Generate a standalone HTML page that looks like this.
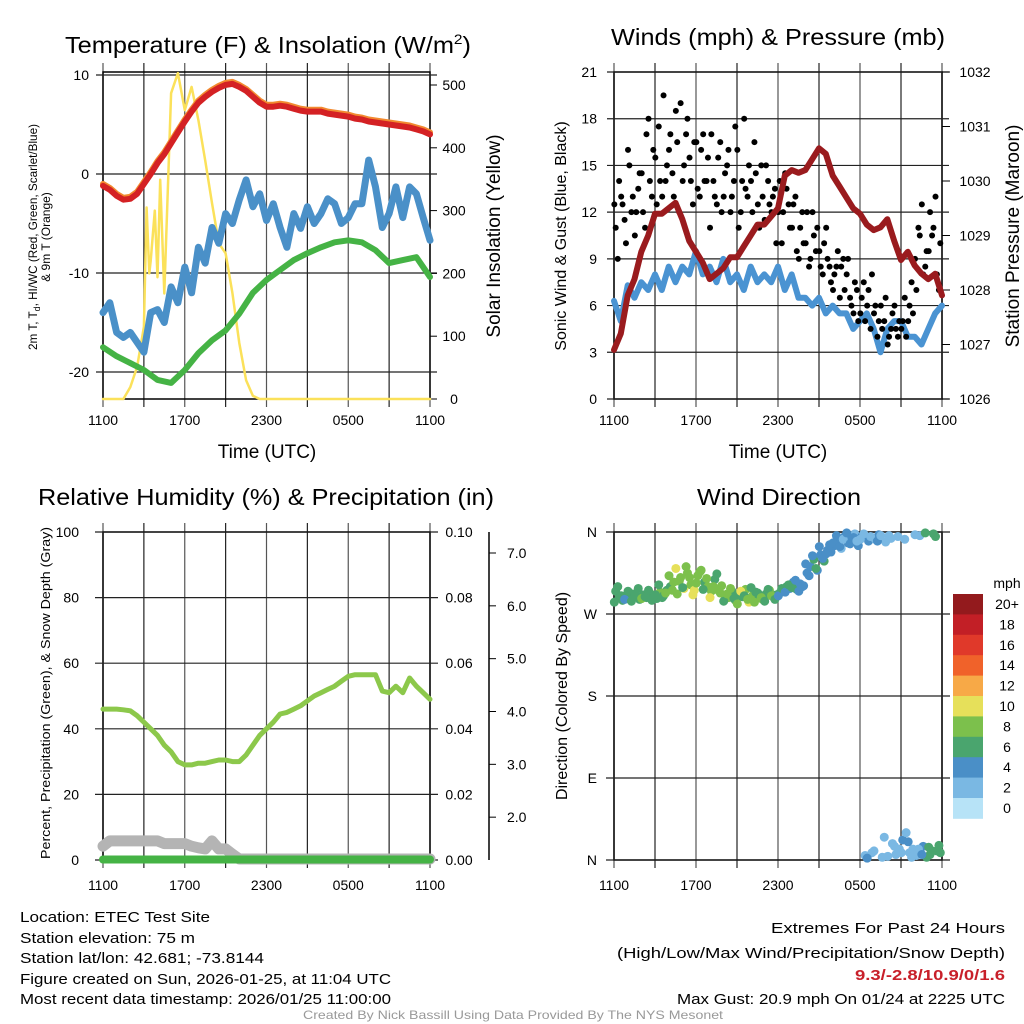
<!DOCTYPE html>
<html><head><meta charset="utf-8"><style>
html,body{margin:0;padding:0;background:#fff;}
svg{display:block;font-family:"Liberation Sans",sans-serif;}
</style></head><body>
<svg id="fig" width="1024" height="1024" viewBox="0 0 1024 1024" xmlns="http://www.w3.org/2000/svg">
<g id="g1"></g>
<g id="g2"></g>
<g id="g3"></g>
<g id="g4"></g>
<g font-size="23" text-anchor="middle" fill="#000">
<text x="268" y="53" textLength="406" lengthAdjust="spacingAndGlyphs">Temperature (F) &amp; Insolation (W/m<tspan dy="-9" font-size="14">2</tspan><tspan dy="9">)</tspan></text>
<text x="778" y="45" textLength="334" lengthAdjust="spacingAndGlyphs">Winds (mph) &amp; Pressure (mb)</text>
<text x="266" y="505" textLength="456" lengthAdjust="spacingAndGlyphs">Relative Humidity (%) &amp; Precipitation (in)</text>
<text x="779" y="505" textLength="164" lengthAdjust="spacingAndGlyphs">Wind Direction</text>
</g>
<g fill="#000">
<text x="267" y="458" font-size="19" text-anchor="middle">Time (UTC)</text>
<text x="778" y="458" font-size="19" text-anchor="middle">Time (UTC)</text>
<text transform="translate(37,237) rotate(-90)" font-size="12" text-anchor="middle" textLength="226" lengthAdjust="spacingAndGlyphs">2m T, T<tspan dy="3" font-size="9">d</tspan><tspan dy="-3">, HI/WC (Red, Green, Scarlet/Blue)</tspan></text>
<text transform="translate(50,237) rotate(-90)" font-size="12" text-anchor="middle">&amp; 9m T (Orange)</text>
<text transform="translate(500,236) rotate(-90)" font-size="19" text-anchor="middle">Solar Insolation (Yellow)</text>
<text transform="translate(566,236) rotate(-90)" font-size="16" text-anchor="middle">Sonic Wind &amp; Gust (Blue, Black)</text>
<text transform="translate(1019,236) rotate(-90)" font-size="19" text-anchor="middle">Station Pressure (Maroon)</text>
<text transform="translate(50,693) rotate(-90)" font-size="13" text-anchor="middle" textLength="332" lengthAdjust="spacingAndGlyphs">Percent, Precipitation (Green), &amp; Snow Depth (Gray)</text>
<text transform="translate(567,696) rotate(-90)" font-size="16" text-anchor="middle">Direction (Colored By Speed)</text>
</g>
<g font-size="15" fill="#000">
<text x="20" y="922" textLength="190" lengthAdjust="spacingAndGlyphs">Location: ETEC Test Site</text>
<text x="20" y="943" textLength="175" lengthAdjust="spacingAndGlyphs">Station elevation: 75 m</text>
<text x="20" y="963" textLength="244" lengthAdjust="spacingAndGlyphs">Station lat/lon: 42.681; -73.8144</text>
<text x="20" y="984" textLength="371" lengthAdjust="spacingAndGlyphs">Figure created on Sun, 2026-01-25, at 11:04 UTC</text>
<text x="20" y="1004" textLength="371" lengthAdjust="spacingAndGlyphs">Most recent data timestamp: 2026/01/25 11:00:00</text>
</g>
<g font-size="15" fill="#000" text-anchor="end">
<text x="1005" y="933" textLength="234" lengthAdjust="spacingAndGlyphs">Extremes For Past 24 Hours</text>
<text x="1005" y="958" textLength="388" lengthAdjust="spacingAndGlyphs">(High/Low/Max Wind/Precipitation/Snow Depth)</text>
<text x="1005" y="980" fill="#c8202a" font-weight="bold" textLength="150" lengthAdjust="spacingAndGlyphs">9.3/-2.8/10.9/0/1.6</text>
<text x="1005" y="1004" textLength="328" lengthAdjust="spacingAndGlyphs">Max Gust: 20.9 mph On 01/24 at 2225 UTC</text>
</g>
<text x="513" y="1019" font-size="12" fill="#999" text-anchor="middle" textLength="420" lengthAdjust="spacingAndGlyphs">Created By Nick Bassill Using Data Provided By The NYS Mesonet</text>
</svg>
<script>
// ---- data ----
const timeLabels = ["1100","1700","2300","0500","1100"];
const tempTicks = [-20,-10,0,10];
const solarTicks = [0,100,200,300,400,500];
const tempRed = [-1.2,-1.6,-2.2,-2.6,-2.5,-2.0,-1.0,0,1.1,2,3.1,4.2,5.3,6.3,7.2,7.8,8.3,8.7,9.0,9.1,8.8,8.4,7.8,7.2,6.8,6.8,6.9,6.8,6.6,6.4,6.3,6.3,6.3,6.1,6.0,5.9,5.8,5.6,5.5,5.3,5.2,5.1,5.0,4.9,4.8,4.7,4.5,4.3,4.0];
const temp9m = [-1.0,-1.4,-2.0,-2.4,-2.3,-1.8,-0.8,0.2,1.3,2.2,3.3,4.4,5.5,6.5,7.4,8.0,8.5,8.9,9.2,9.3,9.0,8.6,8.0,7.4,7.0,7.0,7.1,7.0,6.8,6.6,6.5,6.5,6.5,6.3,6.2,6.1,6.0,5.8,5.7,5.5,5.4,5.3,5.2,5.1,5.0,4.9,4.7,4.5,4.2];
const windChill = [-14,-13,-16,-16.5,-16,-17,-18,-14,-13.7,-15,-11.4,-13,-9.4,-12,-7.4,-9,-5.4,-7,-4.0,-5,-2.6,-0.6,-3.3,-2,-4.7,-3,-5.4,-7.4,-4,-5.5,-3.3,-5,-4,-2.5,-3,-5,-4.4,-3,-3,1.4,-1.3,-5.4,-4,-1.3,-4.4,-1.3,-2,-4.4,-6.7];
const dewpoint = [-17.5,-18.4,-19.1,-19.8,-20.8,-21.1,-19.8,-18.1,-16.8,-15.8,-14.1,-12,-10.7,-9.7,-8.7,-8,-7.4,-6.9,-6.7,-6.9,-7.7,-9,-8.7,-8.4,-10.4];
const solar = [0,0,0,0,19,51,115,220,194,168,487,519,460,497,444,380,312,248,232,169,89,30,5,0,0,0,0,0,0,0,0,0,0,0,0,0,0,0,0,0,0,0,0,0,0,0,0,0,0];
const solarSpikeH = [3.2,3.4,3.8,4.2];
const solarSpikeV = [305,200,300,349];
const windTicks = [0,3,6,9,12,15,18,21];
const presTicks = [1026,1027,1028,1029,1030,1031,1032];
const pressure = [1026.9,1027.2,1027.9,1028.2,1028.7,1029.0,1029.4,1029.4,1029.5,1029.6,1029.3,1028.9,1028.7,1028.5,1028.2,1028.3,1028.4,1028.6,1028.6,1028.8,1029.0,1029.2,1029.2,1029.35,1029.5,1030.1,1030.2,1030.15,1030.2,1030.4,1030.6,1030.5,1030.1,1029.9,1029.7,1029.5,1029.4,1029.2,1029.1,1029.15,1029.3,1028.9,1028.55,1028.7,1028.45,1028.3,1028.2,1028.3,1027.9];
const sonicWind = [6.3,5,7.3,6.5,7.5,7,8,7,8.5,7.5,8.5,8,9.5,8,8.5,7.5,9,7.5,8,7,8.5,7.5,8,7.5,8.5,7,8,6.5,6.5,6,6.5,5.5,6,5.5,5.5,4.5,5,5.5,4.5,3.0,4.5,5,5,4,4,3.5,4.5,5.5,6];
const gusts = [11,14,12.5,10, 15,13,12,14.5, 12,17,14,16, 12.5,14,19.5,15, 17,13,16.5,19, 15,18,14,16.5, 13.5,16,14,15.5, 17,13,15.5,12, 14.5,16,13,17.5, 11,14,13.5,15, 12,14.5,11,13, 15,12.5,13,10, 14,12,13.5,11, 12.5,9.5,11,10, 12,9,10.5,11, 8.5,10,9,7.5, 8,9.5,8.5,7, 9,6,7.5,5, 6.5,5,7,8, 6,5,4.5,6.5, 4,5.5,4.5,5, 5,4,6,5.5, 7,10.5,8,9.5, 12,11,8,10];
const gusts2 = [12.5,9,13,11.5, 16,12,10.5,13.5, 14.5,11,18,13, 15.5,17.5,13,14, 16,14.5,18.5,12, 14,17,15.5,12.5, 16.5,13,17,14, 11,14,12.5,16.5, 13,15,12,14, 16,12,18,13, 14,16.5,12.5,15, 11.5,14,12,13.5, 12,10,14.5,12.5, 11,13,9,12, 10,8.5,12,9.5, 9.5,8,11,8.5, 7,8.5,6.5,9, 8,6.5,5.5,7, 5.5,7.5,6,4.5, 5.5,4,6,5, 3.5,4.5,6,4, 4.5,6.5,5,7.5, 9,11,12.5,8.5, 9.5,10.5,13,7];
const rhTicks = [0,20,40,60,80,100];
const precipTicks = ["0.00","0.02","0.04","0.06","0.08","0.10"];
const snowTicks = [2,3,4,5,6,7];
const humidity = [46,46,46,45.8,45.5,44,42,40,38,35,33,30,29,29,29.5,29.5,30,30.5,30.5,30,30,32,35,38,40,42,44.5,45,46,47,48.5,50,51,52,53,54.5,56,56.5,56.5,56.5,56.5,51.5,51,53,51,55.5,53,51,49];
const snowDepth = [1.45,1.55,1.55,1.55,1.55,1.55,1.55,1.55,1.55,1.5,1.5,1.5,1.5,1.45,1.42,1.4,1.55,1.4,1.4,1.3,1.19,1.19,1.19,1.19,1.19,1.19,1.19,1.19,1.19,1.19,1.19,1.19,1.19,1.19,1.19,1.19,1.19,1.19,1.19,1.19,1.19,1.19,1.19,1.19,1.19,1.19,1.19,1.19,1.19];
const precip = [0,0,0,0,0,0,0,0,0,0,0,0,0,0,0,0,0,0,0,0,0,0,0,0,0];
const dirLabels = ["N","W","S","E","N"];
const windDir = [295,288,285,290,287,292,289,286,291,288,293,290,287,294,290,296, 300,305,292,310,298,315,302,296,312,318,305,300,295,308,296,301, 290,288,295,285,292,289,297,283,290,294,288,286,292,296,289,291, 293,296,300,298,305,297,303,301, 315,322,330,318,335,328,340,338, 345,350,342,355,348,352,358,345, 355,5,350,8,352,357,3,349,356,18,6,12, 22,30,8,12,5,356,15,3,6,358,10,8];
const windSpd = [6,7,6.5,7,6,7.5,6.5,7,6,7,8,6.5,7,8.5,7,6.5, 7,8,9,8.5,10,9,8,10.5,9,8.5,7,9.5,8,7.5,9,8.5, 8,9,7,8.5,6.5,7.5,8,10.5,9,6.5,7,8.5,7,8,6.5,7, 6,5,6.5,5.5,5,6,5,4.5, 5,4.5,6,5.5,4,6.5,5,4.5, 4.5,5,3,4,5.5,4,3.5,4.5, 4,3.5,4.5,3,2.5,4,3,3,2.5,3.5,3,2.5, 4,3,2.5,3.5,2,3,4,6,6.5,7,6,6.5];
const windDir2 = [283,300,290,286,295,284,292,298,287,289,296,285,291,302,288,293, 312,296,320,306,299,322,310,291,304,316,297,309,288,300,314,293, 284,292,298,287,281,295,290,286,299,283,293,288,284,297,290,286, 290,298,294,302,299,307,295,300, 325,312,334,320,344,331,336,346, 348,356,344,352,359,347,354,350, 352,358,2,355,10,350,356,25,4,353,15,355, 8,352,20,3,357,12,6,359,14,10,355,16];
const windSpd2 = [6.5,6,7,5.5,7,6,7.5,6.5,8,7,6,7.5,6.5,7,6,8, 8.5,9,10.5,8,7.5,9,8,10,9.5,8,7,8.5,10.5,9,7.5,8, 7.5,8.5,9,6.5,8,10,7,8.5,7.5,9,6.5,8,7,7.5,8.5,6.5, 5.5,6.5,5,6,6.5,5,4.5,5.5, 4.5,5.5,4,6,5,4.5,5.5,4, 4,4.5,5,3.5,4,5,4.5,3.5, 3.5,3,4,3.5,3,4,2.5,3.5,3,2,3.5,3, 3,2.5,4,3,2,3.5,4,6,7,6.5,6,7];
const speedLabels = ["20+","18","16","14","12","10","8","6","4","2","0"];
const speedColors = ["#931a1d","#c21f26","#e0392a","#f0622a","#f7a947","#e6e05a","#7cc04c","#4aa56e","#4a8fc7","#7ab8e3","#b7e3f7"];

// ---- helpers ----
const NS="http://www.w3.org/2000/svg";
function mk(parent,tag,attrs){const e=document.createElementNS(NS,tag);for(const k in attrs)e.setAttribute(k,attrs[k]);parent.appendChild(e);return e;}
function hx(L,R){return h=>L+(R-L)*h/24;}
function lin(v0,v1,p0,p1){return v=>p0+(v-v0)*(p1-p0)/(v1-v0);}
function seriesPts(arr,X,Y){return arr.map((v,i)=>X(i*24/(arr.length-1)).toFixed(1)+","+Y(v).toFixed(1)).join(" ");}
function frame(g,L,R,T,B){
  for(let k=0;k<=8;k++){const x=L+(R-L)*k/8;
    const gl=mk(g,"line",{x1:x,y1:T-9,x2:x,y2:B+8,stroke:k%2?"#222":"#555","stroke-width":1.2});
    
    }
  const f=mk(g,"rect",{x:L,y:T,width:R-L,height:B-T,fill:"none",stroke:"#000","stroke-width":1.5});
  
  
}
function hline(g,L,R,y,ext){const l=mk(g,"line",{x1:L-ext,y1:y,x2:R+ext,y2:y,stroke:"#222","stroke-width":1.2});
  
  }
function label(g,x,y,s,anchor,size,name){const t=mk(g,"text",{x:x,y:y,"font-size":size||14,"text-anchor":anchor||"middle"});t.textContent=s;
  
  return t;}
function poly(g,pts,color,w,name){const p=mk(g,"polyline",{points:pts,fill:"none",stroke:color,"stroke-width":w,"stroke-linejoin":"round","stroke-linecap":"round"});
  
  return p;}
function timeAxis(g,L,R,y){timeLabels.forEach((s,i)=>label(g,L+(R-L)*i/4,y,s,"middle",14,"x-tick-label"));}

// ---- panel 1: temperature ----
(function(){
  const g=document.getElementById("g1"),L=103,R=430,T=72,B=399;
  const X=hx(L,R),Y=lin(0,10,174,75),S=lin(0,500,399,85);
  frame(g,L,R,T,B);
  tempTicks.forEach(v=>{hline(g,L,R,Y(v),7);label(g,L-14,Y(v)+5,String(v),"end",14,"temp-tick-label");});
  solarTicks.forEach(v=>{const t=mk(g,"line",{x1:R,y1:S(v),x2:R+7,y2:S(v),stroke:"#000"});
    
    
    label(g,R+24,S(v)+5,String(v),"middle",14,"solar-tick-label");});
  timeAxis(g,L,R,425);
  const sp=solar.map((v,i)=>[i*24/(solar.length-1),v]);
  solarSpikeH.forEach((h,i)=>sp.push([h,solarSpikeV[i]]));
  sp.sort((a,b)=>a[0]-b[0]);
  poly(g,sp.map(p=>X(p[0]).toFixed(1)+","+S(p[1]).toFixed(1)).join(" "),"#fbe15a",2.5,"solar-line");
  poly(g,seriesPts(dewpoint,X,Y),"#45b345",6,"dewpoint-line");
  poly(g,seriesPts(windChill,X,Y),"#4a90c8",7,"wind-chill-line");
  poly(g,seriesPts(temp9m,X,Y),"#f28a30",6,"temp-9m-line");
  poly(g,seriesPts(tempRed,X,Y),"#d42124",6,"temp-2m-line");
})();

// ---- panel 2: wind & pressure ----
(function(){
  const g=document.getElementById("g2"),L=614,R=942,T=72,B=399;
  const X=hx(L,R),Y=lin(0,21,399,72),P=lin(1026,1032,399,72);
  frame(g,L,R,T,B);
  windTicks.forEach(v=>{hline(g,L,R,Y(v),7);label(g,L-17,Y(v)+5,String(v),"end",14,"wind-tick-label");});
  presTicks.forEach(v=>{const t=mk(g,"line",{x1:R,y1:P(v),x2:R+8,y2:P(v),stroke:"#000"});
    
    
    label(g,R+33,P(v)+5,String(v),"middle",14,"pressure-tick-label");});
  timeAxis(g,L,R,425);
  poly(g,seriesPts(sonicWind,X,Y),"#4a93d2",6,"sonic-wind-line");
  gusts.forEach((v,i)=>{const c=mk(g,"circle",{cx:X((i+0.5)*24/gusts.length),cy:Y(v),r:3,fill:"#000"});
    
    });
  gusts2.forEach((v,i)=>{const c=mk(g,"circle",{cx:X((i+0.1)*24/gusts2.length),cy:Y(v),r:3,fill:"#000"});
    
    });
  poly(g,seriesPts(pressure,X,P),"#9a1b1e",6,"pressure-line");
})();

// ---- panel 3: humidity ----
(function(){
  const g=document.getElementById("g3"),L=103,R=430,T=532,B=860;
  const X=hx(L,R),Y=lin(0,100,860,532),SN=lin(1,7,870,553);
  frame(g,L,R,T,B);
  rhTicks.forEach((v,i)=>{hline(g,L,R,Y(v),8);label(g,L-24,Y(v)+5,String(v),"end",14,"humidity-tick-label");
    label(g,R+29,Y(v)+5,precipTicks[i],"middle",14,"precip-tick-label");});
  const ax=mk(g,"line",{x1:489,y1:T,x2:489,y2:B,stroke:"#000","stroke-width":1.5});
  
  
  snowTicks.forEach(v=>{const t=mk(g,"line",{x1:489,y1:SN(v),x2:496,y2:SN(v),stroke:"#000"});
    
    
    label(g,507,SN(v)+5,v.toFixed(1),"start",14,"snow-tick-label");});
  timeAxis(g,L,R,890);
  poly(g,seriesPts(snowDepth.map(v=>Math.max(v,1.19)),X,v=>Math.min(SN(v),859)),"#b4b4b4",11,"snow-depth-line");
  poly(g,seriesPts(precip,X,v=>Y(0)-0.5-v*3280),"#45b345",8,"precip-line");
  poly(g,seriesPts(humidity,X,Y),"#8cc84b",5,"humidity-line");
})();

// ---- panel 4: wind direction ----
(function(){
  const g=document.getElementById("g4"),L=614,R=942,T=532,B=860;
  const X=hx(L,R),Y=lin(0,360,860,532);
  frame(g,L,R,T,B);
  dirLabels.forEach((s,i)=>{const y=T+(B-T)*i/4;hline(g,L,R,y,8);label(g,L-17,y+5,s,"end",14,"direction-tick-label");});
  timeAxis(g,L,R,890);
  function col(s){const bin=Math.min(10,Math.floor(s/2));return speedColors[10-bin];}
  windDir.forEach((d,i)=>{const c=mk(g,"circle",{cx:X((i+0.5)*24/windDir.length),cy:Y(d),r:4.5,fill:col(windSpd[i])});
    
    });
  windDir2.forEach((d,i)=>{const c=mk(g,"circle",{cx:X((i+0.1)*24/windDir2.length),cy:Y(d),r:4.5,fill:col(windSpd2[i])});
    
    });
  label(g,1007,588,"mph","middle",14,"colorbar-title");
  speedLabels.forEach((s,i)=>{const y=594+i*20.4;
    const r=mk(g,"rect",{x:953,y:y,width:30,height:20.8,fill:speedColors[i]});
    
    
    label(g,1007,y+15,s,"middle",14,"colorbar-label");});
})();
</script>
</body></html>
